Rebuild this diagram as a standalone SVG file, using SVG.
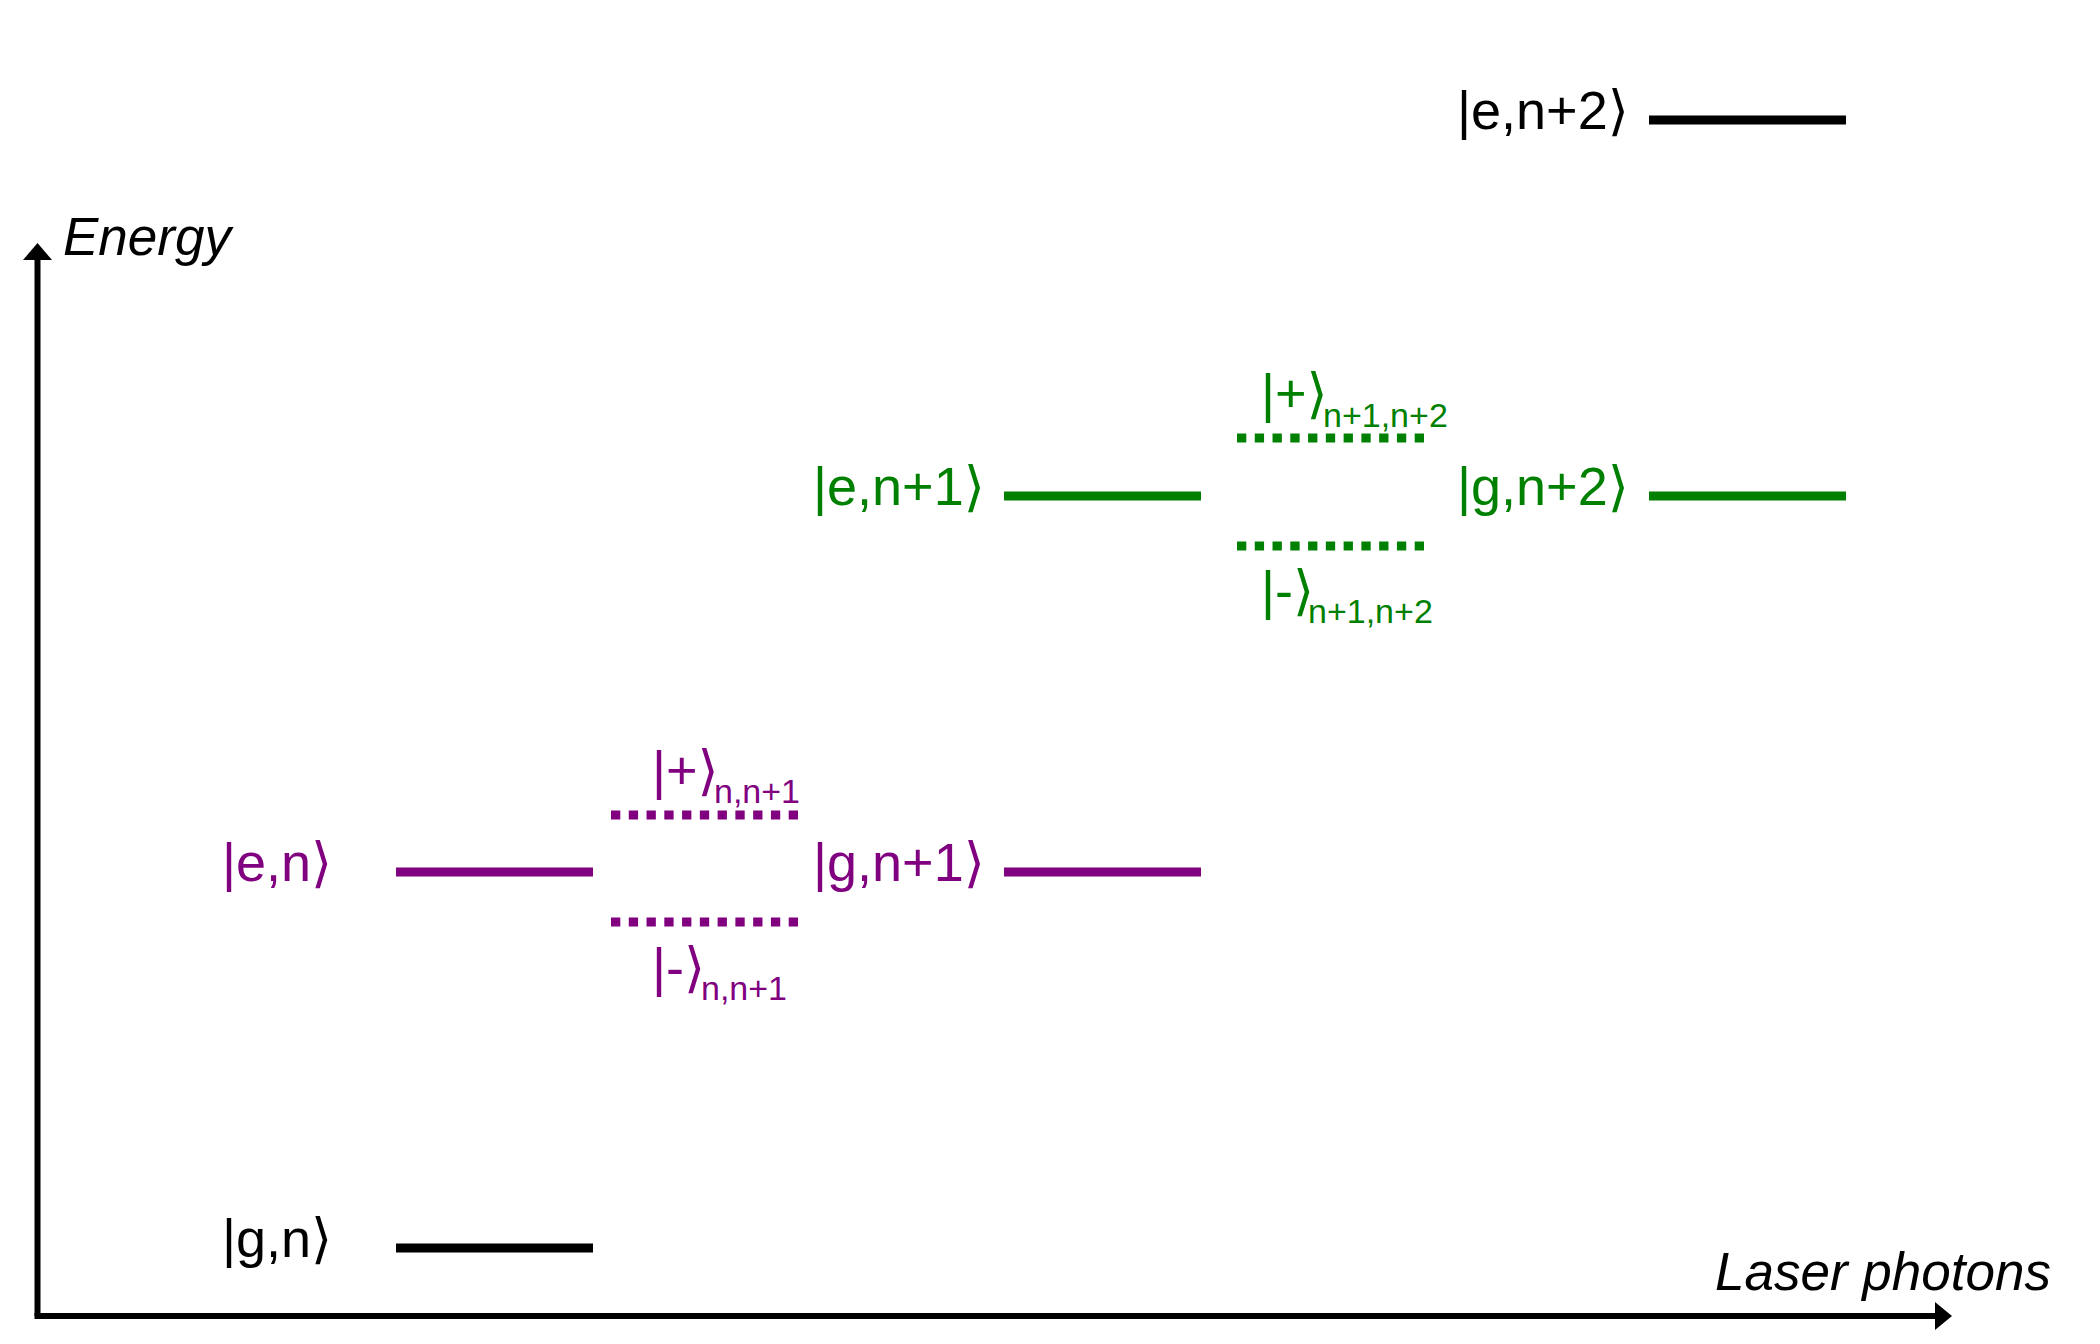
<svg xmlns="http://www.w3.org/2000/svg" width="2100" height="1344" viewBox="0 0 2100 1344">
<style>
text { font-family: "Liberation Sans", Arial, "DejaVu Sans", sans-serif; font-size: 54px; }
.ax { stroke: #000; stroke-width: 6; fill: none; }
.axl { font-style: italic; font-size: 53px; fill: #000; }
.lvl { stroke-width: 9; fill: none; }
.dot { stroke-width: 9; fill: none; stroke-dasharray: 9.3 8.47; }
.sub { font-size: 34px; }
.k { stroke: #000; fill: #000; }
.p { stroke: #800080; fill: #800080; }
.g { stroke: #008000; fill: #008000; }
text.k, text.p, text.g { stroke: none; }
</style>
<rect width="2100" height="1344" fill="#fff"/>
<g id="axes">
  <line class="ax" x1="37.5" y1="1316" x2="37.5" y2="258"/>
  <polygon points="37.5,243 23,260 52,260" fill="#000"/>
  <line class="ax" x1="34.5" y1="1316" x2="1937" y2="1316"/>
  <polygon points="1952,1316 1935,1302 1935,1330" fill="#000"/>
  <text class="axl" x="63" y="255">Energy</text>
  <text class="axl" x="1715" y="1290">Laser photons</text>
</g>
<g id="g_n">
  <line class="lvl k" x1="396" y1="1248" x2="593" y2="1248"/>
  <text class="k" x="222" y="1257">|g,n⟩</text>
</g>
<g id="e_n">
  <line class="lvl p" x1="396" y1="872" x2="593" y2="872"/>
  <text class="p" x="222" y="881">|e,n⟩</text>
</g>
<g id="plus_n">
  <line class="dot p" x1="611" y1="815" x2="798" y2="815"/>
  <text class="p" x="652" y="789">|+⟩</text>
  <text class="p sub" x="714" y="803">n,n+1</text>
</g>
<g id="minus_n">
  <line class="dot p" x1="611" y1="922" x2="798" y2="922"/>
  <text class="p" x="652" y="986">|-⟩</text>
  <text class="p sub" x="701" y="1000">n,n+1</text>
</g>
<g id="g_n1">
  <line class="lvl p" x1="1004" y1="872" x2="1201" y2="872"/>
  <text class="p" x="813" y="881">|g,n+1⟩</text>
</g>
<g id="e_n1">
  <line class="lvl g" x1="1004" y1="496" x2="1201" y2="496"/>
  <text class="g" x="813" y="505">|e,n+1⟩</text>
</g>
<g id="plus_n1">
  <line class="dot g" x1="1237" y1="438" x2="1424" y2="438"/>
  <text class="g" x="1261" y="412">|+⟩</text>
  <text class="g sub" x="1323" y="427">n+1,n+2</text>
</g>
<g id="minus_n1">
  <line class="dot g" x1="1237" y1="546" x2="1424" y2="546"/>
  <text class="g" x="1261" y="609">|-⟩</text>
  <text class="g sub" x="1308" y="623">n+1,n+2</text>
</g>
<g id="g_n2">
  <line class="lvl g" x1="1649" y1="496" x2="1846" y2="496"/>
  <text class="g" x="1457" y="505">|g,n+2⟩</text>
</g>
<g id="e_n2">
  <line class="lvl k" x1="1649" y1="120" x2="1846" y2="120"/>
  <text class="k" x="1457" y="129">|e,n+2⟩</text>
</g>
</svg>
